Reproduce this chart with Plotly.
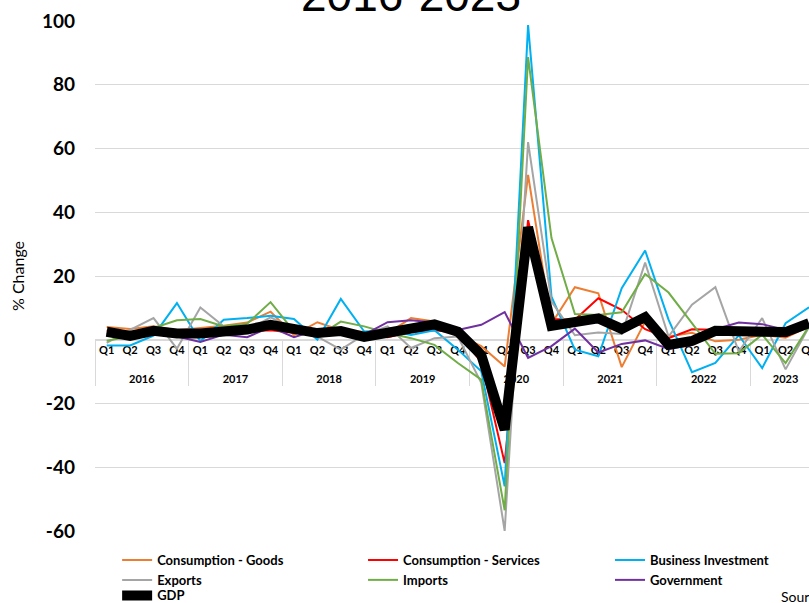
import plotly.graph_objects as go

# Quarterly period labels
years = ["2016", "2017", "2018", "2019", "2020", "2021", "2022", "2023"]
quarter_names = ["Q1", "Q2", "Q3", "Q4"]

# Percent change (annualized) by component, 2016 Q1 - 2023 Q3
goods = [4.0, 3.4, 4.2, 3.0, 3.7, 4.4, 5.4, 8.8, 1.5, 5.5, 3.0, 2.5, 2.0, 6.8, 5.7, 1.5,
         -2.0, -8.4, 51.7, 5.0, 16.5, 14.6, -8.6, 5.7, 1.0, 2.2, -0.5, 0.0, 1.6, 0.6, 4.2]
services = [2.8, 2.5, 2.3, 2.6, 2.4, 2.2, 2.5, 3.0, 2.2, 2.8, 2.6, 1.8, 0.8, 2.4, 3.0, 2.2,
            -7.0, -38.7, 37.5, 6.5, 6.3, 13.0, 9.4, 3.3, 0.5, 3.3, 3.1, 2.6, 2.2, 1.0, 4.2]
business_investment = [-1.8, -1.8, 1.3, 11.5, -0.5, 6.3, 6.8, 7.5, 6.5, 0.0, 12.8, 2.6, 3.0, 1.5, 3.0, -3.1,
                       -9.9, -46.0, 98.7, 13.5, -3.1, -5.2, 16.2, 28.0, 6.3, -10.2, -7.3, 1.4, -8.9, 5.2, 10.2]
exports = [-1.0, 3.1, 6.8, -2.8, 10.1, 4.2, 3.0, 7.0, 3.5, 1.0, -3.1, 1.6, 4.2, -2.6, 0.5, 1.0,
           -13.5, -60.0, 62.0, 12.0, 1.4, 2.3, 1.8, 24.2, 1.0, 11.0, 16.5, -3.7, 6.8, -9.3, 4.0]
imports = [-0.3, 1.0, 3.7, 6.1, 6.5, 4.2, 5.0, 11.8, 2.6, 1.0, 5.7, 4.2, 2.1, 0.5, -1.6, -7.3,
           -12.5, -53.5, 88.7, 31.9, 8.1, 7.8, 8.6, 20.6, 14.8, 5.2, -4.4, -4.2, 1.6, -7.3, 4.2]
government = [2.0, 2.2, 2.5, 1.0, -0.7, 1.6, 0.8, 4.0, 0.8, 3.1, 2.5, 1.6, 5.5, 6.1, 5.4, 3.1,
              4.7, 8.7, -5.7, -2.0, 3.5, -4.0, -1.3, -0.2, -2.9, -1.6, 3.3, 5.4, 4.9, 3.1, 5.0]
gdp = [2.5, 1.2, 2.8, 2.0, 2.0, 2.3, 3.2, 4.7, 3.3, 2.1, 2.7, 0.9, 2.2, 3.4, 4.8, 2.5,
       -4.8, -28.2, 35.3, 4.4, 5.4, 6.7, 3.4, 7.1, -1.6, -0.4, 2.8, 2.9, 2.5, 2.4, 5.2]

# y-axis ticks
y_ticks = [-60, -40, -20, 0, 20, 40, 60, 80, 100]
y_tick_text = ["-60", "-40", "-20", "0", "20", "40", "60", "80", "100"]

n = len(gdp)
# year labels sit one text line lower, under the quarter row
period_year = ["<br>" + y for y in years for q in quarter_names][:n]
period_quarter = [q for y in years for q in quarter_names][:n]
x = [period_year, period_quarter]

FONT = "Lato, Carlito, Calibri, sans-serif"

# name, values, colour, width, legend block
series = [
    ("Consumption - Goods", goods, "#ED7D31", 2, "legend"),
    ("Consumption - Services", services, "#FF0000", 2, "legend2"),
    ("Business Investment", business_investment, "#00B0F0", 2, "legend3"),
    ("Exports", exports, "#A5A5A5", 2, "legend"),
    ("Imports", imports, "#70AD47", 2, "legend2"),
    ("Government", government, "#7030A0", 2, "legend3"),
    ("GDP", gdp, "#000000", 10, "legend4"),
]

fig = go.Figure()
for name, vals, color, width, leg in series:
    fig.add_trace(go.Scatter(
        x=x, y=vals, name=name, mode="lines",
        line=dict(color=color, width=width),
        legend=leg,
    ))

legend_style = dict(
    orientation="v", xanchor="left", yanchor="top", y=-0.0275,
    font=dict(family=FONT, size=13, color="black", weight="bold"),
    bgcolor="rgba(0,0,0,0)", borderwidth=0, itemwidth=30,
)

fig.update_layout(
    width=809, height=603,
    margin=dict(l=95, r=0, t=21, b=72, autoexpand=False),
    plot_bgcolor="white", paper_bgcolor="white",
    font=dict(family=FONT, color="black"),
    xaxis=dict(
        type="multicategory", range=[-0.5, 30.0],
        anchor="free", position=0.375,
        showline=True, linecolor="#D9D9D9", linewidth=1,
        showgrid=False, ticks="", tickangle=0,
        showdividers=True, dividercolor="#D9D9D9", dividerwidth=1,
        tickfont=dict(family=FONT, size=11, color="black", weight="bold"),
        layer="below traces",
    ),
    yaxis=dict(
        range=[-60, 100], tickvals=y_ticks, ticktext=y_tick_text,
        showgrid=True, gridcolor="#D9D9D9", gridwidth=1,
        zeroline=False, showline=False, ticks="",
        tickfont=dict(family=FONT, size=19, color="black", weight="bold"),
        ticklabelstandoff=19,
        title=dict(text="% Change", font=dict(family=FONT, size=16, color="black"), standoff=13),
    ),
    legend=dict(legend_style, x=0.031),
    legend2=dict(legend_style, x=0.3754),
    legend3=dict(legend_style, x=0.7213),
    legend4=dict(legend_style, x=0.031, y=-0.097),
    showlegend=True,
    annotations=[
        dict(text="2016-2023", xref="paper", yref="paper", x=0.442, y=0.996,
             xanchor="center", yanchor="bottom", showarrow=False,
             font=dict(family="Liberation Sans, Arial, sans-serif", size=46, color="black")),
        dict(text="Source: U.S. Bureau of Economic Analysis", xref="paper", yref="paper",
             x=0.958, y=-0.108, xanchor="left", yanchor="top", showarrow=False,
             font=dict(family=FONT, size=14, color="black")),
    ],
)

fig.write_html("out.html")
